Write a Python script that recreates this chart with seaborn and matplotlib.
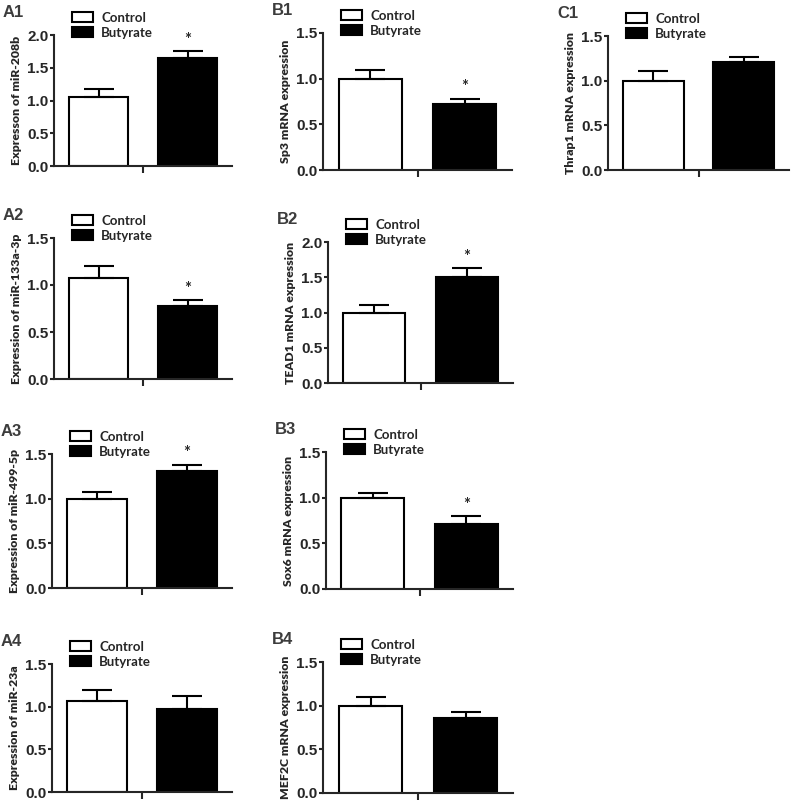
import numpy as np
import pandas as pd
import matplotlib
matplotlib.use("Agg")
import matplotlib.pyplot as plt
import seaborn as sns
from matplotlib.patches import Patch

# ── data ────────────────────────────────────────────────
panels = ["A1", "A2", "A3", "A4", "B1", "B2", "B3", "B4", "C1"]
ylabels = ["Expresson of miR-208b", "Expression of miR-133a-3p",
           "Expression of miR-499-5p", "Expression of miR-23a",
           "Sp3 mRNA expression", "TEAD1 mRNA expression",
           "Sox6 mRNA expression", "MEF2C mRNA expression",
           "Thrap1 mRNA expression"]
ymax = [2.0, 1.5, 1.5, 1.5, 1.5, 2.0, 1.5, 1.5, 1.5]
groups = ["Control", "Butyrate"]
control_mean = [1.05, 1.07, 1.00, 1.07, 1.00, 1.00, 1.00, 1.00, 1.00]
control_sem = [0.12, 0.13, 0.07, 0.13, 0.10, 0.10, 0.05, 0.10, 0.11]
butyrate_mean = [1.65, 0.78, 1.31, 0.97, 0.72, 1.50, 0.71, 0.86, 1.21]
butyrate_sem = [0.10, 0.06, 0.07, 0.16, 0.06, 0.13, 0.09, 0.07, 0.05]
significant = [True, True, True, False, True, True, True, False, False]

# axes boxes in pixels: left, right, top, bottom (figure is 792 x 801)
boxes = [(54, 232, 35, 166), (54, 232, 238, 379), (52, 232, 454, 588),
         (52, 232, 664, 792), (323, 512, 33, 170), (328, 513, 242, 383),
         (326, 513, 452, 589), (323, 513, 662, 793), (608, 789, 36, 170)]

W, H = 792, 801
sns.set_style("ticks")
plt.rcParams["font.family"] = ["Lato", "DejaVu Sans"]
plt.rcParams["axes.linewidth"] = 1.5

fig = plt.figure(figsize=(W / 100, H / 100), dpi=100)

for i, name in enumerate(panels):
    l, r, t, b = boxes[i]
    ax = fig.add_axes([l / W, 1 - b / H, (r - l) / W, (b - t) / H])
    df = pd.DataFrame({"group": groups,
                       "value": [control_mean[i], butyrate_mean[i]]})
    sns.barplot(data=df, x="group", y="value", hue="group",
                palette=["white", "black"], edgecolor="black",
                linewidth=1.5, width=0.67, legend=False, ax=ax, errorbar=None)
    ax.errorbar([0, 1], df["value"],
                yerr=[[0, 0], [control_sem[i], butyrate_sem[i]]],
                fmt="none", ecolor="black", elinewidth=1.5,
                capsize=11, capthick=1.5, zorder=1)
    if significant[i]:
        top = butyrate_mean[i] + butyrate_sem[i]
        ax.text(1, top + ymax[i] * 0.025, "*", ha="center", va="bottom",
                fontsize=12, fontweight="bold")

    ticks = np.arange(0, ymax[i] + 0.01, 0.5)
    ax.set_xlim(-0.5, 1.5)
    ax.set_ylim(0, ymax[i])
    ax.set_yticks(ticks)
    ax.set_yticklabels([f"{v:.1f}" for v in ticks],
                       family="Liberation Sans", fontweight="bold", fontsize=11)
    ax.set_xticks([0.5])
    ax.set_xticklabels([""])
    ax.tick_params(axis="y", length=3, width=1.5, pad=1)
    ax.tick_params(axis="x", length=5, width=1.5)
    ax.set_xlabel("")
    ax.set_ylabel(ylabels[i], fontsize=8.8, fontweight="heavy", labelpad=4)
    sns.despine(ax=ax)

    handles = [Patch(facecolor="white", edgecolor="black", linewidth=1.5),
               Patch(facecolor="black", edgecolor="black", linewidth=1.5)]
    fig.legend(handles=handles, labels=groups, loc="upper left",
               bbox_to_anchor=((l + 18) / W, 1 - (t - 23) / H),
               frameon=False, handlelength=1.6,
               handleheight=0.8, handletextpad=0.6, labelspacing=0.2,
               borderpad=0, borderaxespad=0,
               prop={"weight": "bold", "size": 9.5})

    fig.text((l - 51) / W, 1 - (t - 30) / H, name, ha="left", va="top",
             fontsize=12, fontweight="bold", color="#3c3c3c",
             family="Liberation Sans")

fig.savefig("out.png", dpi=100)
